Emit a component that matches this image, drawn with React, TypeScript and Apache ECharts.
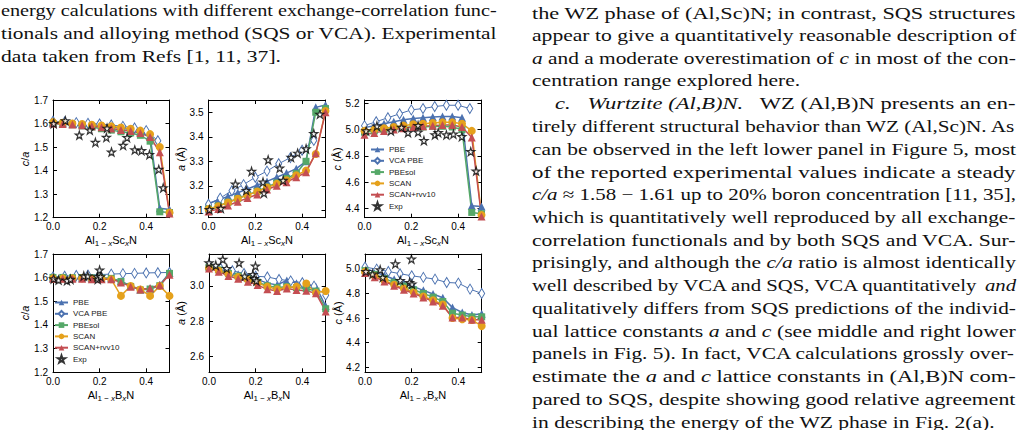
import React, { useEffect, useRef } from 'react';
import * as echarts from 'echarts';

// ---------- DATA ----------
const xSQS = [0, 0.0417, 0.0833, 0.125, 0.1667, 0.2083, 0.25, 0.2917, 0.3333, 0.375, 0.4167, 0.4583, 0.5];
const xVCAsc = [0, 0.05, 0.1, 0.15, 0.2, 0.25, 0.3, 0.35, 0.4, 0.45];
const xVCAb = [0, 0.05, 0.1, 0.15, 0.2, 0.25, 0.3, 0.35, 0.4, 0.45, 0.5];

// (Al,Sc)N  c/a
const scCA_PBE = [1.605, 1.603, 1.6, 1.598, 1.595, 1.59, 1.585, 1.58, 1.575, 1.565, 1.55, 1.24, 1.235];
const scCA_VCA = [1.61, 1.607, 1.604, 1.601, 1.598, 1.594, 1.588, 1.581, 1.57, 1.527];
const scCA_PBEsol = [1.6, 1.598, 1.595, 1.59, 1.585, 1.578, 1.572, 1.565, 1.56, 1.55, 1.525, 1.225, 1.222];
const scCA_SCAN = [1.606, 1.603, 1.6, 1.598, 1.595, 1.592, 1.588, 1.583, 1.578, 1.57, 1.555, 1.5, 1.222];
const scCA_RVV = [1.6, 1.598, 1.596, 1.593, 1.589, 1.584, 1.579, 1.573, 1.568, 1.56, 1.543, 1.478, 1.218];
const scCA_expX = [0.003, 0.053, 0.113, 0.158, 0.182, 0.229, 0.232, 0.251, 0.301, 0.318, 0.351, 0.38, 0.414, 0.454, 0.473];
const scCA_expY = [1.6, 1.612, 1.551, 1.572, 1.52, 1.541, 1.58, 1.479, 1.507, 1.54, 1.488, 1.485, 1.468, 1.405, 1.327];

// (Al,Sc)N  a
const scA_PBE = [3.128, 3.142, 3.157, 3.172, 3.187, 3.203, 3.218, 3.235, 3.252, 3.27, 3.3, 3.52, 3.53];
const scA_VCA = [3.125, 3.15, 3.18, 3.205, 3.235, 3.26, 3.29, 3.315, 3.345, 3.385];
const scA_PBEsol = [3.105, 3.118, 3.133, 3.148, 3.163, 3.178, 3.195, 3.212, 3.23, 3.25, 3.3, 3.5, 3.515];
const scA_SCAN = [3.105, 3.117, 3.132, 3.147, 3.162, 3.177, 3.193, 3.208, 3.223, 3.243, 3.262, 3.33, 3.505];
const scA_RVV = [3.095, 3.105, 3.12, 3.135, 3.15, 3.165, 3.185, 3.2, 3.215, 3.235, 3.255, 3.333, 3.5];
const scA_expX = [0.004, 0.053, 0.115, 0.161, 0.184, 0.233, 0.237, 0.255, 0.304, 0.319, 0.353, 0.381, 0.417, 0.45, 0.476];
const scA_expY = [3.103, 3.108, 3.207, 3.181, 3.259, 3.215, 3.17, 3.306, 3.272, 3.222, 3.316, 3.333, 3.351, 3.413, 3.492];

// (Al,Sc)N  c
const scC_PBE = [5.015, 5.03, 5.045, 5.06, 5.075, 5.085, 5.09, 5.095, 5.1, 5.1, 5.09, 4.42, 4.415];
const scC_VCA = [5.03, 5.06, 5.09, 5.12, 5.15, 5.16, 5.175, 5.185, 5.185, 5.16];
const scC_PBEsol = [4.98, 4.99, 5.0, 5.01, 5.015, 5.02, 5.02, 5.025, 5.025, 5.02, 5.0, 4.37, 4.36];
const scC_SCAN = [4.99, 5.0, 5.01, 5.02, 5.03, 5.04, 5.045, 5.05, 5.055, 5.055, 5.045, 4.99, 4.35];
const scC_RVV = [4.96, 4.975, 4.99, 5.0, 5.01, 5.02, 5.025, 5.03, 5.035, 5.035, 5.02, 4.94, 4.34];
const scC_expX = [0.007, 0.053, 0.113, 0.158, 0.186, 0.229, 0.229, 0.254, 0.301, 0.315, 0.35, 0.38, 0.416, 0.454, 0.477];
const scC_expY = [4.99, 5.027, 4.99, 5.017, 4.977, 5.03, 4.98, 4.916, 4.96, 4.977, 4.96, 4.965, 4.946, 4.832, 4.685];

// (Al,B)N  c/a
const bCA_PBE = [1.6, 1.6, 1.6, 1.6, 1.598, 1.598, 1.597, 1.585, 1.565, 1.55, 1.555, 1.57, 1.62];
const bCA_VCA = [1.603, 1.606, 1.609, 1.611, 1.613, 1.615, 1.617, 1.618, 1.62, 1.621, 1.622];
const bCA_PBEsol = [1.601, 1.601, 1.6, 1.6, 1.599, 1.598, 1.597, 1.584, 1.563, 1.548, 1.552, 1.566, 1.618];
const bCA_SCAN = [1.597, 1.597, 1.597, 1.597, 1.595, 1.595, 1.593, 1.523, 1.565, 1.55, 1.523, 1.565, 1.523];
const bCA_RVV = [1.595, 1.595, 1.595, 1.595, 1.593, 1.593, 1.593, 1.58, 1.562, 1.55, 1.555, 1.568, 1.612];
const bCA_expX = [0.003, 0.024, 0.06, 0.075, 0.132, 0.149, 0.19, 0.192, 0.2, 0.204];
const bCA_expY = [1.595, 1.59, 1.587, 1.593, 1.607, 1.607, 1.604, 1.593, 1.632, 1.604];

// (Al,B)N  a
const bA_PBE = [3.11, 3.095, 3.08, 3.065, 3.05, 3.035, 3.015, 3.005, 3.03, 3.015, 3.01, 2.995, 2.885];
const bA_VCA = [3.116, 3.098, 3.085, 3.07, 3.054, 3.05, 3.036, 3.028, 3.017, 2.998, 2.947];
const bA_PBEsol = [3.105, 3.09, 3.07, 3.055, 3.04, 3.02, 3.0, 2.99, 2.995, 2.99, 2.985, 2.97, 2.87];
const bA_SCAN = [3.1, 3.085, 3.065, 3.05, 3.035, 3.015, 2.995, 2.98, 2.99, 2.995, 3.013, 2.96, 2.97];
const bA_RVV = [3.098, 3.08, 3.055, 3.04, 3.023, 3.004, 2.98, 2.97, 2.985, 2.976, 2.972, 2.957, 2.855];
const bA_expX = [0.0, 0.029, 0.059, 0.076, 0.129, 0.153, 0.188, 0.194, 0.199, 0.203];
const bA_expY = [3.13, 3.116, 3.15, 3.098, 3.13, 3.054, 3.064, 3.041, 3.111, 3.028];

// (Al,B)N  c
const bC_PBE = [5.005, 4.975, 4.945, 4.915, 4.885, 4.855, 4.825, 4.795, 4.765, 4.685, 4.645, 4.625, 4.635];
const bC_VCA = [5.014, 4.997, 4.978, 4.96, 4.943, 4.93, 4.916, 4.889, 4.884, 4.835, 4.8];
const bC_PBEsol = [4.985, 4.955, 4.92, 4.89, 4.86, 4.83, 4.8, 4.77, 4.735, 4.64, 4.625, 4.61, 4.61];
const bC_SCAN = [4.975, 4.94, 4.905, 4.87, 4.84, 4.81, 4.775, 4.745, 4.71, 4.6, 4.59, 4.585, 4.535];
const bC_RVV = [4.965, 4.932, 4.897, 4.862, 4.83, 4.8, 4.768, 4.735, 4.7, 4.605, 4.605, 4.587, 4.587];
const bC_expX = [0.004, 0.032, 0.065, 0.076, 0.13, 0.151, 0.191, 0.199, 0.201];
const bC_expY = [4.978, 4.957, 4.992, 4.93, 5.04, 4.905, 4.889, 5.078, 4.876];

// tick labels
const xTicks = [0, 0.2, 0.4];
const caTicks = [1.2, 1.3, 1.4, 1.5, 1.6, 1.7];
const scATicks = [3.1, 3.2, 3.3, 3.4, 3.5];
const scCTicks = [4.4, 4.6, 4.8, 5.0, 5.2];
const bATicks = [2.6, 2.8, 3.0];
const bCTicks = [4.2, 4.4, 4.6, 4.8, 5.0];

const seriesNames = ['PBE', 'VCA PBE', 'PBEsol', 'SCAN', 'SCAN+rvv10', 'Exp'];

// paper text
const leftLines = [
  'energy calculations with different exchange-correlation func-',
  'tionals and alloying method (SQS or VCA). Experimental',
  'data taken from Refs [1, 11, 37].',
];
const leftJust = [true, true, false];
const rightLines = [
  'the WZ phase of (Al,Sc)N; in contrast, SQS structures',
  'appear to give a quantitatively reasonable description of',
  '{i|a} and a moderate overestimation of {i|c} in most of the con-',
  'centration range explored here.',
  '{i|c.}   {i|Wurtzite (Al,B)N.}   WZ (Al,B)N presents an en-',
  'tirely different structural behavior than WZ (Al,Sc)N. As',
  'can be observed in the left lower panel in Figure 5, most',
  'of the reported experimental values indicate a steady',
  '{i|c/a} ≈ 1.58 − 1.61 up to 20% boron concentration [11, 35],',
  'which is quantitatively well reproduced by all exchange-',
  'correlation functionals and by both SQS and VCA. Sur-',
  'prisingly, and although the {i|c/a} ratio is almost identically',
  'well described by VCA and SQS, VCA quantitatively {i|and}',
  'qualitatively differs from SQS predictions of the individ-',
  'ual lattice constants {i|a} and {i|c} (see middle and right lower',
  'panels in Fig. 5). In fact, VCA calculations grossly over-',
  'estimate the {i|a} and {i|c} lattice constants in (Al,B)N com-',
  'pared to SQS, despite showing good relative agreement',
  'in describing the energy of the WZ phase in Fig. 2(a).',
];
const rightJust = [true, true, true, false, true, true, true, true, true, true, true, true, true, true, true, true, true, true, false];

// ---------- STYLE ----------
const C_BLUE = '#4c72b0';
const C_GREEN = '#55a868';
const C_ORANGE = '#e5a11c';
const C_RED = '#c44e52';
const STAR = 'path://M50,2 L61,36 L97,36 L68,57 L79,92 L50,71 L21,92 L32,57 L3,36 L39,36 Z';
const SANS = '"Liberation Sans", Arial, sans-serif';
const SERIF = '"Liberation Serif", "Times New Roman", serif';
const FS = 17;

function pairs(xs: number[], ys: number[]) {
  return ys.map((y, i) => [xs[i], y]);
}

function measureRich(ctx: CanvasRenderingContext2D, s: string) {
  const re = /\{i\|([^}]*)\}|([^{]+)/g;
  let m: RegExpExecArray | null;
  let w = 0;
  while ((m = re.exec(s))) {
    if (m[1] !== undefined) {
      ctx.font = `italic ${FS}px ${SERIF}`;
      w += ctx.measureText(m[1]).width;
    } else {
      ctx.font = `${FS}px ${SERIF}`;
      w += ctx.measureText(m[2]).width;
    }
  }
  return w;
}

export default function App() {
  const ref = useRef<HTMLDivElement>(null);
  useEffect(() => {
    const chart = echarts.init(ref.current!, null, { renderer: 'svg' });

    const panels = [
      { grid: [53, 100, 116.5, 117.7], ymin: 1.2, ymax: 1.7, yt: caTicks, d: [scCA_PBE, scCA_PBEsol, scCA_SCAN, scCA_RVV], vx: xVCAsc, v: scCA_VCA, ex: scCA_expX, ey: scCA_expY },
      { grid: [208.5, 100, 117, 117.7], ymin: 3.07, ymax: 3.55, yt: scATicks, d: [scA_PBE, scA_PBEsol, scA_SCAN, scA_RVV], vx: xVCAsc, v: scA_VCA, ex: scA_expX, ey: scA_expY },
      { grid: [364.5, 100, 117, 117.7], ymin: 4.33, ymax: 5.225, yt: scCTicks, d: [scC_PBE, scC_PBEsol, scC_SCAN, scC_RVV], vx: xVCAsc, v: scC_VCA, ex: scC_expX, ey: scC_expY },
      { grid: [53, 254, 116.5, 118.3], ymin: 1.2, ymax: 1.7, yt: caTicks, d: [bCA_PBE, bCA_PBEsol, bCA_SCAN, bCA_RVV], vx: xVCAb, v: bCA_VCA, ex: bCA_expX, ey: bCA_expY },
      { grid: [209, 254, 116.7, 118.3], ymin: 2.51, ymax: 3.18, yt: bATicks, d: [bA_PBE, bA_PBEsol, bA_SCAN, bA_RVV], vx: xVCAb, v: bA_VCA, ex: bA_expX, ey: bA_expY },
      { grid: [365, 254, 116.7, 118.3], ymin: 4.16, ymax: 5.12, yt: bCTicks, d: [bC_PBE, bC_PBEsol, bC_SCAN, bC_RVV], vx: xVCAb, v: bC_VCA, ex: bC_expX, ey: bC_expY },
    ];

    const grids: any[] = [];
    const xAxes: any[] = [];
    const yAxes: any[] = [];
    const series: any[] = [];
    const axisLine = { show: true, onZero: false, lineStyle: { color: '#000', width: 1 } };

    panels.forEach((p, g) => {
      grids.push({ left: p.grid[0], top: p.grid[1], width: p.grid[2], height: p.grid[3], containLabel: false });
      const xBase = { type: 'value', gridIndex: g, min: 0, max: 0.5, splitLine: { show: false }, axisLine };
      xAxes.push({
        ...xBase, position: 'bottom',
        axisTick: { show: true, inside: true, length: 4, customValues: xTicks, lineStyle: { color: '#000' } },
        axisLabel: { show: true, customValues: xTicks, formatter: (v: number) => v.toFixed(1), fontSize: 10, fontFamily: SANS, color: '#000', margin: 4 },
      });
      xAxes.push({
        ...xBase, position: 'top',
        axisTick: { show: true, inside: true, length: 4, customValues: xTicks, lineStyle: { color: '#000' } },
        axisLabel: { show: false },
      });
      const yBase = { type: 'value', gridIndex: g, min: p.ymin, max: p.ymax, splitLine: { show: false }, axisLine };
      yAxes.push({
        ...yBase, position: 'left',
        axisTick: { show: true, inside: true, length: 4, customValues: p.yt, lineStyle: { color: '#000' } },
        axisLabel: { show: true, customValues: p.yt, formatter: (v: number) => v.toFixed(1), fontSize: 10, fontFamily: SANS, color: '#000', margin: 5 },
      });
      yAxes.push({
        ...yBase, position: 'right',
        axisTick: { show: true, inside: true, length: 4, customValues: p.yt, lineStyle: { color: '#000' } },
        axisLabel: { show: false },
      });
      const ax = { xAxisIndex: 2 * g, yAxisIndex: 2 * g };
      const mk = (name: string, ys: number[], xs: number[], color: string, symbol: string, size: any, extra: any = {}) => ({
        type: 'line', name, ...ax, data: pairs(xs, ys), symbol, symbolSize: size, showAllSymbol: true,
        lineStyle: { color, width: 1.5 }, itemStyle: { color }, emphasis: { disabled: true }, ...extra,
      });
      series.push(mk('PBE', p.d[0], xSQS, C_BLUE, 'triangle', 8));
      series.push(mk('VCA PBE', p.v, p.vx, C_BLUE, 'diamond', [6, 10], {
        itemStyle: { color: '#fff', borderColor: C_BLUE, borderWidth: 1 }, lineStyle: { color: C_BLUE, width: 1 },
      }));
      series.push(mk('PBEsol', p.d[1], xSQS, C_GREEN, 'rect', 7));
      series.push(mk('SCAN', p.d[2], xSQS, C_ORANGE, 'circle', 8));
      series.push(mk('SCAN+rvv10', p.d[3], xSQS, C_RED, 'triangle', 8));
      series.push({
        type: 'scatter', name: 'Exp', ...ax, data: pairs(p.ex, p.ey), symbol: STAR, symbolSize: 8,
        itemStyle: { color: '#fff', borderColor: '#000', borderWidth: 1.2 }, emphasis: { disabled: true }, z: 5,
      });
    });

    const legendBase = {
      data: seriesNames, orient: 'vertical', itemWidth: 13, itemHeight: 7, itemGap: 2.3, padding: 0,
      selectedMode: false, textStyle: { fontSize: 8, fontFamily: SANS, color: '#222', lineHeight: 9 },
    };

    // ---------- graphic texts ----------
    const canvas = document.createElement('canvas');
    const ctx = canvas.getContext('2d')!;
    const graphics: any[] = [];
    const textStyle = (text: string) => ({
      text, fill: '#111', fontSize: FS, fontFamily: SERIF, font: `${FS}px ${SERIF}`,
      align: 'left', verticalAlign: 'middle', textAlign: 'left', textVerticalAlign: 'middle',
      rich: { i: { fontStyle: 'italic', fontSize: FS, fontFamily: SERIF } },
    });
    const scales: number[] = [];
    const prep = (lines: string[], just: boolean[], x0: number, x1: number, indents: Record<number, number>) =>
      lines.map((l, i) => {
        const w = measureRich(ctx, l);
        const xs = x0 + (indents[i] || 0);
        const s = (x1 - xs) / w;
        if (just[i]) scales.push(s);
        return { l, xs, s, just: just[i] };
      });
    const L = prep(leftLines, leftJust, 1, 497, {});
    const R = prep(rightLines, rightJust, 532, 1016, { 4: 23 });
    const avgS = scales.reduce((a, b) => a + b, 0) / scales.length;
    L.forEach((o, i) => {
      graphics.push({ type: 'text', x: o.xs, y: 10.5 + 22.75 * i, scaleX: o.just ? o.s : avgS, style: textStyle(o.l), silent: true });
    });
    R.forEach((o, i) => {
      graphics.push({ type: 'text', x: o.xs, y: 12.5 + 22.75 * i, scaleX: o.just ? o.s : avgS, style: textStyle(o.l), silent: true });
    });

    const axStyle = (text: string) => ({
      text, fill: '#000', fontSize: 11, fontFamily: SANS, font: `11px ${SANS}`,
      align: 'center', verticalAlign: 'middle', textAlign: 'center', textVerticalAlign: 'middle',
      rich: {
        n: { fontSize: 11, fontFamily: SANS, lineHeight: 14, verticalAlign: 'middle' },
        ni: { fontSize: 11, fontFamily: SANS, fontStyle: 'italic', lineHeight: 14, verticalAlign: 'middle' },
        s: { fontSize: 8, fontFamily: SANS, lineHeight: 8, verticalAlign: 'bottom' },
        si: { fontSize: 8, fontFamily: SANS, fontStyle: 'italic', lineHeight: 8, verticalAlign: 'bottom' },
      },
    });
    const xTitleSc = '{n|Al}{s|1 − }{si|x}{n|Sc}{si|x}{n|N}';
    const xTitleB = '{n|Al}{s|1 − }{si|x}{n|B}{si|x}{n|N}';
    [[111, 240, xTitleSc], [267, 240, xTitleSc], [423, 240, xTitleSc], [111, 395, xTitleB], [267, 395, xTitleB], [423, 395, xTitleB]].forEach(
      ([x, y, t]) => graphics.push({ type: 'text', x, y, style: axStyle(t as string), silent: true })
    );
    const yT = [
      [25, 159, '{ni|c}{n|/}{ni|a}'], [181, 159, '{ni|a}{n| (Å)}'], [337, 159, '{ni|c}{n| (Å)}'],
      [25, 313, '{ni|c}{n|/}{ni|a}'], [181, 313, '{ni|a}{n| (Å)}'], [338, 313, '{ni|c}{n| (Å)}'],
    ];
    yT.forEach(([x, y, t]) => graphics.push({ type: 'text', x, y, rotation: Math.PI / 2, style: axStyle(t as string), silent: true }));

    const option: any = {
      animation: false,
      backgroundColor: '#fff',
      grid: grids,
      xAxis: xAxes,
      yAxis: yAxes,
      series,
      legend: [
        { ...legendBase, left: 370, top: 145 },
        { ...legendBase, left: 54, top: 298 },
      ],
      graphic: graphics,
    };
    chart.setOption(option);
    return () => chart.dispose();
  }, []);
  return <div ref={ref} style={{ position: 'fixed', left: 0, top: 0, width: 1029, height: 430, background: '#fff' }} />;
}
